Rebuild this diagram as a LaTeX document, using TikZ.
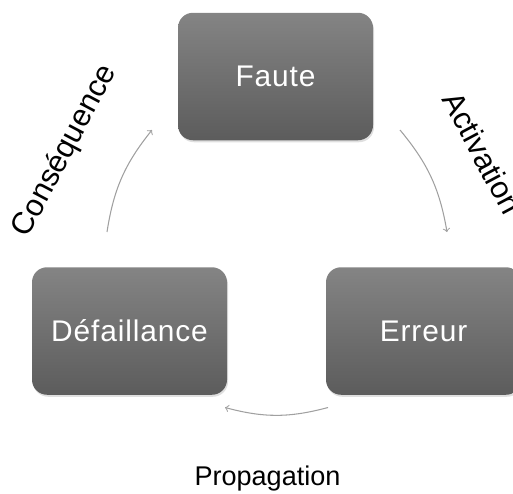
\documentclass[tikz,border=0pt]{standalone}
\usepackage{fontspec}
\usepackage{tikz}
\usepackage{xcolor}
\usetikzlibrary{
    arrows,
    shapes,
    shadows
}
\setmainfont{Liberation Sans}
\definecolor{boxtop}{RGB}{132, 132, 132}
\definecolor{boxbottom}{RGB}{92, 92, 92}
\definecolor{arcgray}{RGB}{160, 160, 160}

\tikzset{
    cyclebox/.style={rectangle, rounded corners=0.3cm, top color=boxtop, bottom color=boxbottom,
        minimum width=3.9cm, minimum height=2.55cm, inner sep=0cm, text=white,
        font=\fontsize{17}{20}\selectfont\addfontfeatures{LetterSpace=3},
        drop shadow={opacity=0.25, shadow xshift=0.02cm, shadow yshift=-0.04cm}},
    cyclelabel/.style={inner sep=0cm, text=black, font=\fontsize{15.4}{18}\selectfont},
    sidelabel/.style={cyclelabel, font=\fontsize{17.5}{20}\selectfont},
    cyclearc/.style={->, >=to, draw=arcgray, line width=0.6pt, bend left=15}
}

\begin{document}
\begin{tikzpicture}
            \useasboundingbox (0, 0) rectangle (10.26, 9.86);

            \node[cyclebox] (faute) at (5.51, 8.33) {Faute};
            \node[cyclebox] (defaillance) at (2.59, 3.24) {Défaillance};
            \node[cyclebox] (erreur) at (8.47, 3.24) {Erreur};

            \coordinate (act1) at (8.00, 7.26);
            \coordinate (act2) at (8.94, 5.22);
            \coordinate (prop1) at (6.56, 1.71);
            \coordinate (prop2) at (4.50, 1.71);
            \coordinate (cons1) at (2.14, 5.22);
            \coordinate (cons2) at (3.04, 7.26);

            \draw[cyclearc] (act1) to (act2);
            \draw[cyclearc] (prop1) to (prop2);
            \draw[cyclearc] (cons1) to (cons2);

            \node[sidelabel, rotate=-62] (activation) at (9.65, 6.80) {Activation};
            \node[cyclelabel, anchor=base] (propagation) at (5.35, 0.16) {Propagation};
            \node[sidelabel, rotate=62] (consequence) at (1.30, 6.84) {Conséquence};
        \end{tikzpicture}
\end{document}
